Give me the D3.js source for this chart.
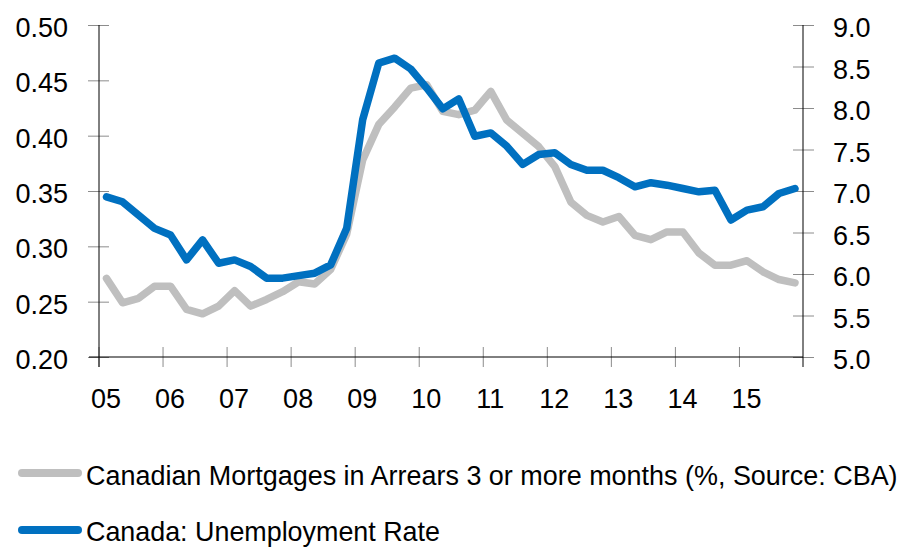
<!DOCTYPE html>
<html>
<head>
<meta charset="utf-8">
<script src="https://cdn.jsdelivr.net/npm/d3@7"></script>
<style>
  html, body { margin: 0; padding: 0; background: #ffffff; }
  svg { display: block; }
  text { font-family: "Liberation Sans", Arial, sans-serif; fill: #000; }
</style>
</head>
<body>
<script>
// Quarterly observations, 2005 Q1 to 2015 Q4
const startYear = 2005;
const quarters = d3.range(44).map(i => startYear + (i + 0.5) / 4);

// Canadian mortgages in arrears 3+ months (%), left axis
const arrears = [
  0.271, 0.249, 0.253, 0.264, 0.264, 0.243, 0.239, 0.246,
  0.260, 0.246, 0.252, 0.259, 0.268, 0.266, 0.279, 0.311,
  0.378, 0.410, 0.426, 0.443, 0.446, 0.422, 0.419, 0.423,
  0.440, 0.414, 0.402, 0.390, 0.372, 0.340, 0.328, 0.322,
  0.327, 0.310, 0.306, 0.313, 0.313, 0.294, 0.283, 0.283,
  0.287, 0.277, 0.270, 0.267
];

// Canada unemployment rate (%), right axis
const unemployment = [
  6.93, 6.87, 6.71, 6.55, 6.47, 6.17, 6.41, 6.13,
  6.17, 6.09, 5.95, 5.95, 5.98, 6.01, 6.11, 6.55,
  7.86, 8.54, 8.60, 8.47, 8.24, 7.99, 8.11, 7.66,
  7.70, 7.54, 7.32, 7.44, 7.46, 7.32, 7.25, 7.25,
  7.16, 7.05, 7.10, 7.07, 7.03, 6.99, 7.01, 6.65,
  6.77, 6.81, 6.97, 7.03
];

const leftTicks = [0.20, 0.25, 0.30, 0.35, 0.40, 0.45, 0.50];
const rightTicks = [5.0, 5.5, 6.0, 6.5, 7.0, 7.5, 8.0, 8.5, 9.0];
const yearTicks = d3.range(2005, 2016);
const yearLabels = ["05", "06", "07", "08", "09", "10", "11", "12", "13", "14", "15"];

const seriesNames = [
  "Canadian Mortgages in Arrears 3 or more months (%, Source: CBA)",
  "Canada: Unemployment Rate"
];
const seriesColors = ["#bfbfbf", "#0070c0"];

const W = 909, H = 547;
const plot = { left: 99, right: 803, top: 25, bottom: 357 };

const svg = d3.select("body").append("svg")
  .attr("width", W).attr("height", H);

const x = d3.scaleLinear().domain([2005, 2016]).range([98.5, plot.right]);
const yL = d3.scaleLinear().domain([0.20, 0.50]).range([plot.bottom, plot.top]);
const yR = d3.scaleLinear().domain([5.0, 9.0]).range([plot.bottom, plot.top]);

const tickColor = "#8c8c8c";
const fontSize = 27;
const axisFont = "'Liberation Sans', Arial, sans-serif";

// Left axis
const gL = svg.append("g").attr("transform", `translate(${plot.left},0)`)
  .call(d3.axisLeft(yL).tickValues(leftTicks).tickFormat(d3.format(".2f"))
    .tickSize(0).tickPadding(31));
gL.select(".domain").remove();
gL.selectAll(".tick line").remove();
gL.selectAll(".tick").append("line")
  .attr("x1", -11).attr("x2", 10).attr("stroke", tickColor).attr("stroke-width", 1);
gL.selectAll(".tick text").attr("dy", "0.43em")
  .style("font-size", fontSize + "px").style("font-family", axisFont);

// Right axis
const gR = svg.append("g").attr("transform", `translate(${plot.right},0)`)
  .call(d3.axisRight(yR).tickValues(rightTicks).tickFormat(d3.format(".1f"))
    .tickSize(0).tickPadding(30));
gR.select(".domain").remove();
gR.selectAll(".tick line").remove();
gR.selectAll(".tick").append("line")
  .attr("x1", -10).attr("x2", 11).attr("stroke", tickColor).attr("stroke-width", 1);
gR.selectAll(".tick text").attr("dy", "0.43em")
  .style("font-size", fontSize + "px").style("font-family", axisFont);

// Bottom axis
const gB = svg.append("g").attr("transform", `translate(0,${plot.bottom})`)
  .call(d3.axisBottom(x).tickValues(yearTicks).tickFormat((d, i) => yearLabels[i])
    .tickSize(0));
gB.select(".domain").remove();
gB.selectAll(".tick line").remove();
gB.selectAll(".tick").append("line")
  .attr("y1", -10).attr("y2", 10).attr("stroke", tickColor).attr("stroke-width", 1);
gB.selectAll(".tick text").attr("x", 7).attr("y", 51).attr("dy", 0)
  .style("font-size", fontSize + "px").style("font-family", axisFont);

// Axis lines
svg.append("line").attr("x1", plot.left).attr("x2", plot.left)
  .attr("y1", plot.top).attr("y2", plot.bottom + 10).attr("stroke", "#000");
svg.append("line").attr("x1", plot.right).attr("x2", plot.right)
  .attr("y1", plot.top).attr("y2", plot.bottom + 10).attr("stroke", "#000");
svg.append("line").attr("x1", 89).attr("x2", plot.right)
  .attr("y1", plot.bottom).attr("y2", plot.bottom).attr("stroke", "#000");

// Series lines
const lineL = d3.line().x((d, i) => x(quarters[i])).y(d => yL(d));
const lineR = d3.line().x((d, i) => x(quarters[i])).y(d => yR(d));

svg.append("path").datum(arrears).attr("d", lineL)
  .attr("fill", "none").attr("stroke", seriesColors[0]).attr("stroke-width", 7.5)
  .attr("stroke-linejoin", "round").attr("stroke-linecap", "round");
svg.append("path").datum(unemployment).attr("d", lineR)
  .attr("fill", "none").attr("stroke", seriesColors[1]).attr("stroke-width", 7.5)
  .attr("stroke-linejoin", "round").attr("stroke-linecap", "round");

// Legend: condensed labels, squeezed horizontally to a fixed width
const legendRows = [
  { y: 473, base: 485, len: 812 },
  { y: 530, base: 541, len: 354 }
];
const lg = svg.append("g");
seriesNames.forEach((name, i) => {
  const r = legendRows[i];
  lg.append("line").attr("x1", 22).attr("x2", 78).attr("y1", r.y).attr("y2", r.y)
    .attr("stroke", seriesColors[i]).attr("stroke-width", 8).attr("stroke-linecap", "round");
  const t = lg.append("text").attr("x", 0).attr("y", 0)
    .style("font-size", "28px").text(name);
  const natural = t.node().getComputedTextLength();
  const sx = natural > 0 ? r.len / natural : 1;
  t.attr("transform", `translate(86,${r.base}) scale(${sx},1)`);
});
</script>
</body>
</html>
